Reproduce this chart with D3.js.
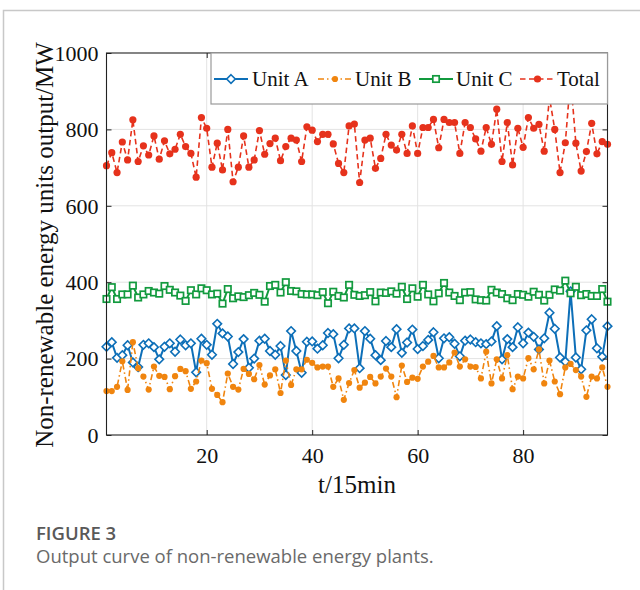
<!DOCTYPE html>
<html>
<head>
<meta charset="utf-8">
<script src="https://cdn.jsdelivr.net/npm/d3@7"></script>
<style>
  html, body { margin: 0; padding: 0; background: #fff; }
  svg { display: block; }
</style>
</head>
<body>
<svg id="chart" width="640" height="590"></svg>
<script>
// values, t = 1..96
const unitA = [231, 243, 202, 209, 235, 190, 178, 236, 240, 230, 198, 231, 240, 218, 250, 235, 240, 164, 252, 236,
  210, 291, 266, 258, 186, 217, 251, 176, 200, 247, 252, 220, 210, 233, 157, 272, 220, 163, 244, 245,
  226, 235, 267, 264, 201, 236, 279, 279, 175, 272, 252, 209, 196, 246, 230, 277, 215, 242, 276, 225,
  233, 249, 269, 201, 253, 256, 239, 206, 247, 250, 243, 240, 238, 245, 285, 198, 251, 230, 282, 240,
  268, 257, 224, 253, 320, 278, 203, 192, 376, 203, 172, 274, 303, 227, 205, 285]
const unitB = [115, 115, 126, 193, 118, 243, 175, 153, 119, 179, 155, 152, 120, 154, 173, 167, 121, 140, 195, 188,
  121, 105, 86, 161, 126, 119, 173, 160, 146, 183, 132, 156, 172, 110, 195, 131, 172, 172, 197, 189,
  177, 179, 179, 126, 148, 92, 136, 170, 124, 137, 152, 135, 153, 174, 153, 99, 182, 139, 150, 147,
  179, 192, 207, 177, 177, 190, 216, 179, 198, 179, 178, 148, 218, 135, 198, 148, 209, 120, 153, 148,
  201, 172, 224, 135, 195, 140, 107, 177, 186, 170, 153, 100, 153, 148, 177, 126]
const unitC = [356, 387, 356, 368, 368, 391, 360, 368, 377, 373, 370, 390, 380, 373, 365, 351, 379, 368, 384, 379,
  368, 370, 344, 382, 358, 363, 361, 366, 372, 367, 349, 390, 393, 373, 400, 377, 376, 369, 368, 368,
  366, 374, 345, 375, 364, 360, 393, 367, 364, 366, 374, 350, 373, 372, 376, 370, 388, 356, 384, 362,
  393, 368, 350, 371, 398, 373, 364, 353, 373, 374, 355, 353, 352, 380, 373, 369, 358, 353, 369, 367,
  362, 375, 367, 352, 367, 381, 378, 404, 371, 388, 366, 369, 364, 364, 382, 349]
const total = [705, 739, 687, 767, 720, 825, 716, 757, 733, 783, 722, 770, 736, 748, 787, 755, 737, 675, 831, 803,
  701, 764, 694, 800, 663, 701, 783, 701, 720, 797, 735, 763, 777, 718, 755, 777, 772, 716, 807, 798,
  768, 787, 787, 762, 711, 687, 809, 814, 661, 772, 777, 698, 724, 787, 759, 746, 787, 737, 809, 737,
  805, 805, 826, 752, 826, 818, 818, 737, 818, 805, 775, 743, 805, 761, 853, 716, 818, 707, 803, 753,
  831, 803, 813, 743, 883, 800, 687, 765, 935, 764, 691, 742, 816, 736, 768, 761]
const xTicks = [20, 40, 60, 80]
const yTicks = [0, 200, 400, 600, 800, 1000]
const seriesNames = ['Unit A', 'Unit B', 'Unit C', 'Total']

const svg = d3.select('#chart')
const plotL = 106.5
const plotR = 607.5
const plotT = 53
const plotB = 435
const serif = '"Liberation Serif", "Times New Roman", serif'
const sans = '"Open Sans", "Noto Sans", sans-serif'
const axisColor = '#222'

const x = d3.scaleLinear().domain([1, 96]).range([plotL, plotR])
const y = d3.scaleLinear().domain([0, 1000]).range([plotB, plotT])

// page frame
svg.append('path')
  .attr('d', 'M3.5,590 V10.5 H640')
  .attr('fill', 'none')
  .attr('stroke', '#c8c8c8')
  .attr('stroke-width', 1.5)

// grid
const grid = svg.append('g')
grid.selectAll('line.gy')
  .data(yTicks.slice(1, -1))
  .enter().append('line')
  .attr('x1', plotL).attr('x2', plotR)
  .attr('y1', d => y(d)).attr('y2', d => y(d))
  .attr('stroke', '#e3e3e3').attr('stroke-width', 1)
grid.selectAll('line.gx')
  .data(xTicks)
  .enter().append('line')
  .attr('y1', plotT).attr('y2', plotB)
  .attr('x1', d => x(d)).attr('x2', d => x(d))
  .attr('stroke', '#e3e3e3').attr('stroke-width', 1)

const series = [
  { name: seriesNames[0], values: unitA, color: '#0d6fb8', dash: null, width: 2, marker: 'diamond' },
  { name: seriesNames[1], values: unitB, color: '#f0850f', dash: '6,3,1.5,3', width: 1.6, marker: 'dot' },
  { name: seriesNames[2], values: unitC, color: '#129a3e', dash: null, width: 2, marker: 'square' },
  { name: seriesNames[3], values: total, color: '#e6321c', dash: '5.5,3.5', width: 1.6, marker: 'bigdot' }
]

const lineGen = d3.line()
  .x((d, i) => x(i + 1))
  .y(d => y(d))

const drawMarker = (g, type, color) => {
  if (type === 'diamond') {
    g.append('path')
      .attr('d', 'M0,-4.3 L4.3,0 L0,4.3 L-4.3,0 Z')
      .attr('fill', '#fff').attr('stroke', color).attr('stroke-width', 1.6)
  } else if (type === 'square') {
    g.append('rect')
      .attr('x', -3.2).attr('y', -3.2).attr('width', 6.4).attr('height', 6.4)
      .attr('fill', '#fff').attr('stroke', color).attr('stroke-width', 1.7)
  } else if (type === 'dot') {
    g.append('circle').attr('r', 3.1).attr('fill', color)
  } else {
    g.append('circle').attr('r', 3.6).attr('fill', color)
  }
}

const plot = svg.append('g')
series.forEach(s => {
  plot.append('path')
    .datum(s.values)
    .attr('d', lineGen)
    .attr('fill', 'none')
    .attr('stroke', s.color)
    .attr('stroke-width', s.width)
    .attr('stroke-dasharray', s.dash)
  const m = plot.append('g').selectAll('g')
    .data(s.values)
    .enter().append('g')
    .attr('transform', (d, i) => `translate(${x(i + 1)},${y(d)})`)
  m.each(function () { drawMarker(d3.select(this), s.marker, s.color) })
})

// axes box with inward ticks on all sides
const ax = svg.append('g')
ax.append('rect')
  .attr('x', plotL).attr('y', plotT)
  .attr('width', plotR - plotL).attr('height', plotB - plotT)
  .attr('fill', 'none').attr('stroke', axisColor).attr('stroke-width', 1.1)

const xAxis = d3.axisBottom(x).tickValues(xTicks).tickSizeInner(-5).tickSizeOuter(0).tickPadding(12)
const yAxis = d3.axisLeft(y).tickValues(yTicks).tickFormat(d3.format('d'))
  .tickSizeInner(-5).tickSizeOuter(0).tickPadding(8)

const gx = ax.append('g').attr('transform', `translate(0,${plotB})`).call(xAxis)
const gy = ax.append('g').attr('transform', `translate(${plotL},0)`).call(yAxis)
ax.append('g').attr('transform', `translate(0,${plotT})`)
  .call(d3.axisTop(x).tickValues(xTicks).tickSizeInner(-5).tickSizeOuter(0).tickFormat(''))
ax.append('g').attr('transform', `translate(${plotR},0)`)
  .call(d3.axisRight(y).tickValues(yTicks).tickSizeInner(-5).tickSizeOuter(0).tickFormat(''))

ax.selectAll('.domain').remove()
ax.selectAll('.tick line').attr('stroke', axisColor).attr('stroke-width', 1)
ax.selectAll('.tick text')
  .attr('font-family', serif)
  .attr('font-size', 22)
  .attr('fill', '#111')
gx.selectAll('.tick text').attr('dy', '0.71em')
gy.selectAll('.tick text').attr('dy', '0.33em')

// axis titles
svg.append('text')
  .attr('x', (plotL + plotR) / 2)
  .attr('y', 493)
  .attr('text-anchor', 'middle')
  .attr('font-family', serif)
  .attr('font-size', 25)
  .attr('fill', '#111')
  .text('t/15min')

svg.append('text')
  .attr('transform', 'translate(53,245) rotate(-90)')
  .attr('text-anchor', 'middle')
  .attr('font-family', serif)
  .attr('font-size', 25)
  .attr('fill', '#111')
  .text('Non-renewable energy units output/MW')

// legend
const lg = svg.append('g')
lg.append('rect')
  .attr('x', 211).attr('y', 53)
  .attr('width', plotR - 211).attr('height', 51)
  .attr('fill', '#fff').attr('stroke', '#9a9a9a').attr('stroke-width', 1.2)

const legendPos = [
  { x0: 214, x1: 248, tx: 252 },
  { x0: 318, x1: 352, tx: 355 },
  { x0: 419, x1: 453, tx: 456 },
  { x0: 520, x1: 555, tx: 557 }
]
series.forEach((s, i) => {
  const p = legendPos[i]
  lg.append('line')
    .attr('x1', p.x0).attr('x2', p.x1)
    .attr('y1', 79).attr('y2', 79)
    .attr('stroke', s.color)
    .attr('stroke-width', s.width)
    .attr('stroke-dasharray', s.dash)
  drawMarker(lg.append('g').attr('transform', `translate(${(p.x0 + p.x1) / 2},79)`), s.marker, s.color)
  lg.append('text')
    .attr('x', p.tx).attr('y', 86)
    .attr('font-family', serif)
    .attr('font-size', 21)
    .attr('fill', '#111')
    .text(s.name)
})

// caption
svg.append('text')
  .attr('x', 36).attr('y', 540)
  .attr('font-family', sans)
  .attr('font-size', 18.5)
  .attr('font-weight', 600)
  .attr('fill', '#595959')
  .text('FIGURE 3')
svg.append('text')
  .attr('x', 36).attr('y', 563)
  .attr('font-family', sans)
  .attr('font-size', 18.5)
  .attr('fill', '#6a6a6a')
  .text('Output curve of non-renewable energy plants.')
</script>
</body>
</html>
